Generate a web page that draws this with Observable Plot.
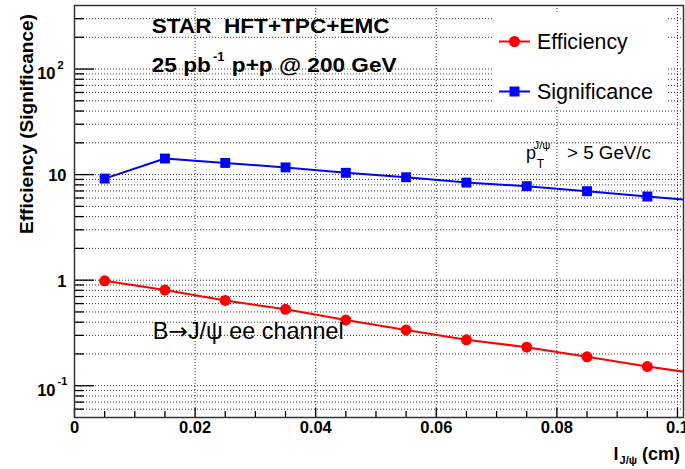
<!DOCTYPE html>
<html><head><meta charset="utf-8">
<script src="https://cdn.jsdelivr.net/npm/d3@7"></script>
<script src="https://cdn.jsdelivr.net/npm/@observablehq/plot@0.6"></script>
<style>
html,body{margin:0;padding:0;background:#fff;}
#chart{width:685px;height:469px;overflow:hidden;}
</style></head><body><div id="chart"></div>
<script>
// ---- data ----
const decayLength = [0.005, 0.015, 0.025, 0.035, 0.045, 0.055, 0.065, 0.075, 0.085, 0.095];
const efficiency = [0.985, 0.805, 0.643, 0.529, 0.419, 0.338, 0.272, 0.232, 0.188, 0.152];
const significance = [9.17, 14.2, 12.9, 11.7, 10.4, 9.44, 8.4, 7.77, 6.96, 6.2];
// the curves continue past the last point to the frame edge (clipped)
const edgeLength = [0.105];
const efficiencyEdge = [0.126];
const significanceEdge = [5.55];

const xMajorTicks = [0, 0.02, 0.04, 0.06, 0.08, 0.1];
const xMajorLabels = ["0", "0.02", "0.04", "0.06", "0.08", "0.1"];
const xMinorTicks = [0.005, 0.01, 0.015, 0.025, 0.03, 0.035, 0.045, 0.05, 0.055, 0.065, 0.07, 0.075, 0.085, 0.09, 0.095];
const yMajorTicks = [0.1, 1, 10, 100];
const yMajorBase = ["10", "1", "10", "10"];
const yMajorExp = ["-1", "", "", "2"];
const yMinorTicks = [0.06, 0.07, 0.08, 0.09, 0.2, 0.3, 0.4, 0.5, 0.6, 0.7, 0.8, 0.9,
  2, 3, 4, 5, 6, 7, 8, 9, 20, 30, 40, 50, 60, 70, 80, 90, 200, 300];

const FONT = "'Liberation Sans', Arial, Helvetica, sans-serif";
const W = 685, H = 469, ML = 74, MR = 2, MT = 5, MB = 52;
const FW = W - ML - MR, FH = H - MT - MB;

const effLine = decayLength.concat(edgeLength).map((x, i) => ({x, y: efficiency.concat(efficiencyEdge)[i]}));
const sigLine = decayLength.concat(edgeLength).map((x, i) => ({x, y: significance.concat(significanceEdge)[i]}));
const effPts = decayLength.map((x, i) => ({x, y: efficiency[i]}));
const sigPts = decayLength.map((x, i) => ({x, y: significance[i]}));
const yLab = yMajorTicks.map((v, i) => ({v, base: yMajorBase[i], exp: yMajorExp[i]}));

const grid = {stroke: "#000", strokeOpacity: 0.8, strokeDasharray: "1,2", strokeWidth: 1};

const chart = Plot.plot({
  width: W, height: H,
  marginLeft: ML, marginRight: MR, marginTop: MT, marginBottom: MB,
  x: {domain: [0, 0.101], axis: null},
  y: {type: "log", domain: [0.05, 400], axis: null},
  style: {fontFamily: FONT, color: "#000", background: "#fff", overflow: "visible"},
  marks: [
    Plot.ruleY(yMinorTicks.concat(yMajorTicks), grid),
    Plot.ruleX(xMajorTicks.slice(1), grid),
    Plot.line(effLine, {x: "x", y: "y", stroke: "#f00", strokeWidth: 2, clip: true}),
    Plot.line(sigLine, {x: "x", y: "y", stroke: "#00f", strokeWidth: 2, clip: true}),
    Plot.dot(effPts, {x: "x", y: "y", r: 5.5, fill: "#f00", symbol: "circle"}),
    Plot.dot(sigPts, {x: "x", y: "y", r: 5.6, fill: "#00f", symbol: "square"}),
    Plot.ruleY(yMajorTicks, {insetRight: FW - 20, stroke: "#000", strokeWidth: 1.3}),
    Plot.ruleY(yMinorTicks, {insetRight: FW - 10, stroke: "#000", strokeWidth: 1.3}),
    Plot.ruleX(xMajorTicks, {insetTop: FH - 9, stroke: "#000", strokeWidth: 1.3}),
    Plot.ruleX(xMinorTicks, {insetTop: FH - 6, stroke: "#000", strokeWidth: 1.3}),
    Plot.frame({stroke: "#333", strokeWidth: 1.5}),
    Plot.text(xMajorTicks, {x: d => d, text: (d, i) => xMajorLabels[i], frameAnchor: "bottom", dy: 15.5,
      fontWeight: "bold", fontSize: 16.5}),
    Plot.text(yLab.filter(d => d.exp === ""), {y: "v", text: "base", frameAnchor: "left", dx: -8, dy: 1.5,
      textAnchor: "end", fontWeight: "bold", fontSize: 16.5}),
    Plot.text(yLab.filter(d => d.exp !== ""), {y: "v", text: "base", frameAnchor: "left", dx: -19, dy: 4.5,
      textAnchor: "end", fontWeight: "bold", fontSize: 16.5}),
    Plot.text(yLab.filter(d => d.exp !== ""), {y: "v", text: "exp", frameAnchor: "left", dx: -17, dy: -4,
      textAnchor: "start", fontWeight: "bold", fontSize: 11})
  ]
});
document.getElementById("chart").append(chart);

// ---- annotations, legend, titles ----
const svg = d3.select(chart);
const ann = svg.append("g").attr("font-family", FONT).attr("fill", "#000");

function fitted(x, y, target, opts = {}) {
  const g = ann.append("g");
  const t = g.append("text").attr("x", 0).attr("y", 0)
    .attr("text-anchor", opts.anchor || "start")
    .attr("font-size", opts.size || 18)
    .attr("font-weight", opts.weight || "normal");
  return {g, t, done() {
    const w = t.node().getBBox().width;
    const s = target ? target / w : 1;
    g.attr("transform", `translate(${x},${y})${opts.rotate ? ` rotate(${opts.rotate})` : ""} scale(${s},1)`);
  }};
}

// title lines
let a = fitted(151.7, 33, 238, {size: 21, weight: "bold"});
a.t.text("STAR  HFT+TPC+EMC").attr("xml:space", "preserve").style("white-space", "pre");
a.done();

a = fitted(151.7, 71.5, 245, {size: 21, weight: "bold"});
a.t.append("tspan").text("25 pb");
a.t.append("tspan").attr("font-size", 12).attr("dy", -11).attr("dx", 2).text("-1");
a.t.append("tspan").attr("dy", 11).attr("dx", 1).text(" p+p @ 200 GeV");
a.done();

// channel label
a = fitted(152.7, 339.3, 191, {size: 23});
a.t.append("tspan").text("B");
a.t.append("tspan").attr("font-family", "'DejaVu Sans', sans-serif").attr("font-size", 23).text("\u2192");
a.t.append("tspan").text("J/\u03c8 ee channel");
a.done();

// pT cut label
ann.append("text").attr("x", 531).attr("y", 159).attr("font-size", 18).text("p");
ann.append("text").attr("x", 540.5).attr("y", 168).attr("font-size", 12).text("T");
ann.append("text").attr("x", 542).attr("y", 148.5).attr("font-size", 11.5).text("J/\u03c8");
a = fitted(567, 159, 84, {size: 18.5});
a.t.text("> 5 GeV/c");
a.done();

// legend
ann.append("rect").attr("x", 493).attr("y", 12).attr("width", 174).attr("height", 94).attr("fill", "#fff");
ann.append("line").attr("x1", 499).attr("x2", 530).attr("y1", 41.5).attr("y2", 41.5)
  .attr("stroke", "#f00").attr("stroke-width", 2);
ann.append("circle").attr("cx", 514.5).attr("cy", 41.5).attr("r", 5.5).attr("fill", "#f00");
a = fitted(537, 48.5, 91, {size: 21.5});
a.t.text("Efficiency");
a.done();
ann.append("line").attr("x1", 499).attr("x2", 530).attr("y1", 91.5).attr("y2", 91.5)
  .attr("stroke", "#00f").attr("stroke-width", 2);
ann.append("rect").attr("x", 509.5).attr("y", 86.5).attr("width", 10).attr("height", 10).attr("fill", "#00f");
a = fitted(537, 98.5, 116, {size: 21.5});
a.t.text("Significance");
a.done();

// axis titles
a = fitted(33, 124, 220, {size: 19, weight: "bold", anchor: "middle", rotate: -90});
a.t.text("Efficiency (Significance)");
a.done();

const xt = ann.append("text").attr("x", 680).attr("y", 460).attr("text-anchor", "end")
  .attr("font-weight", "bold").attr("font-size", 18);
xt.append("tspan").text("l");
xt.append("tspan").attr("font-size", 11).attr("dy", 4).attr("dx", 1).text("J/\u03c8");
xt.append("tspan").attr("dy", -4).text(" (cm)");
</script>
</body></html>
